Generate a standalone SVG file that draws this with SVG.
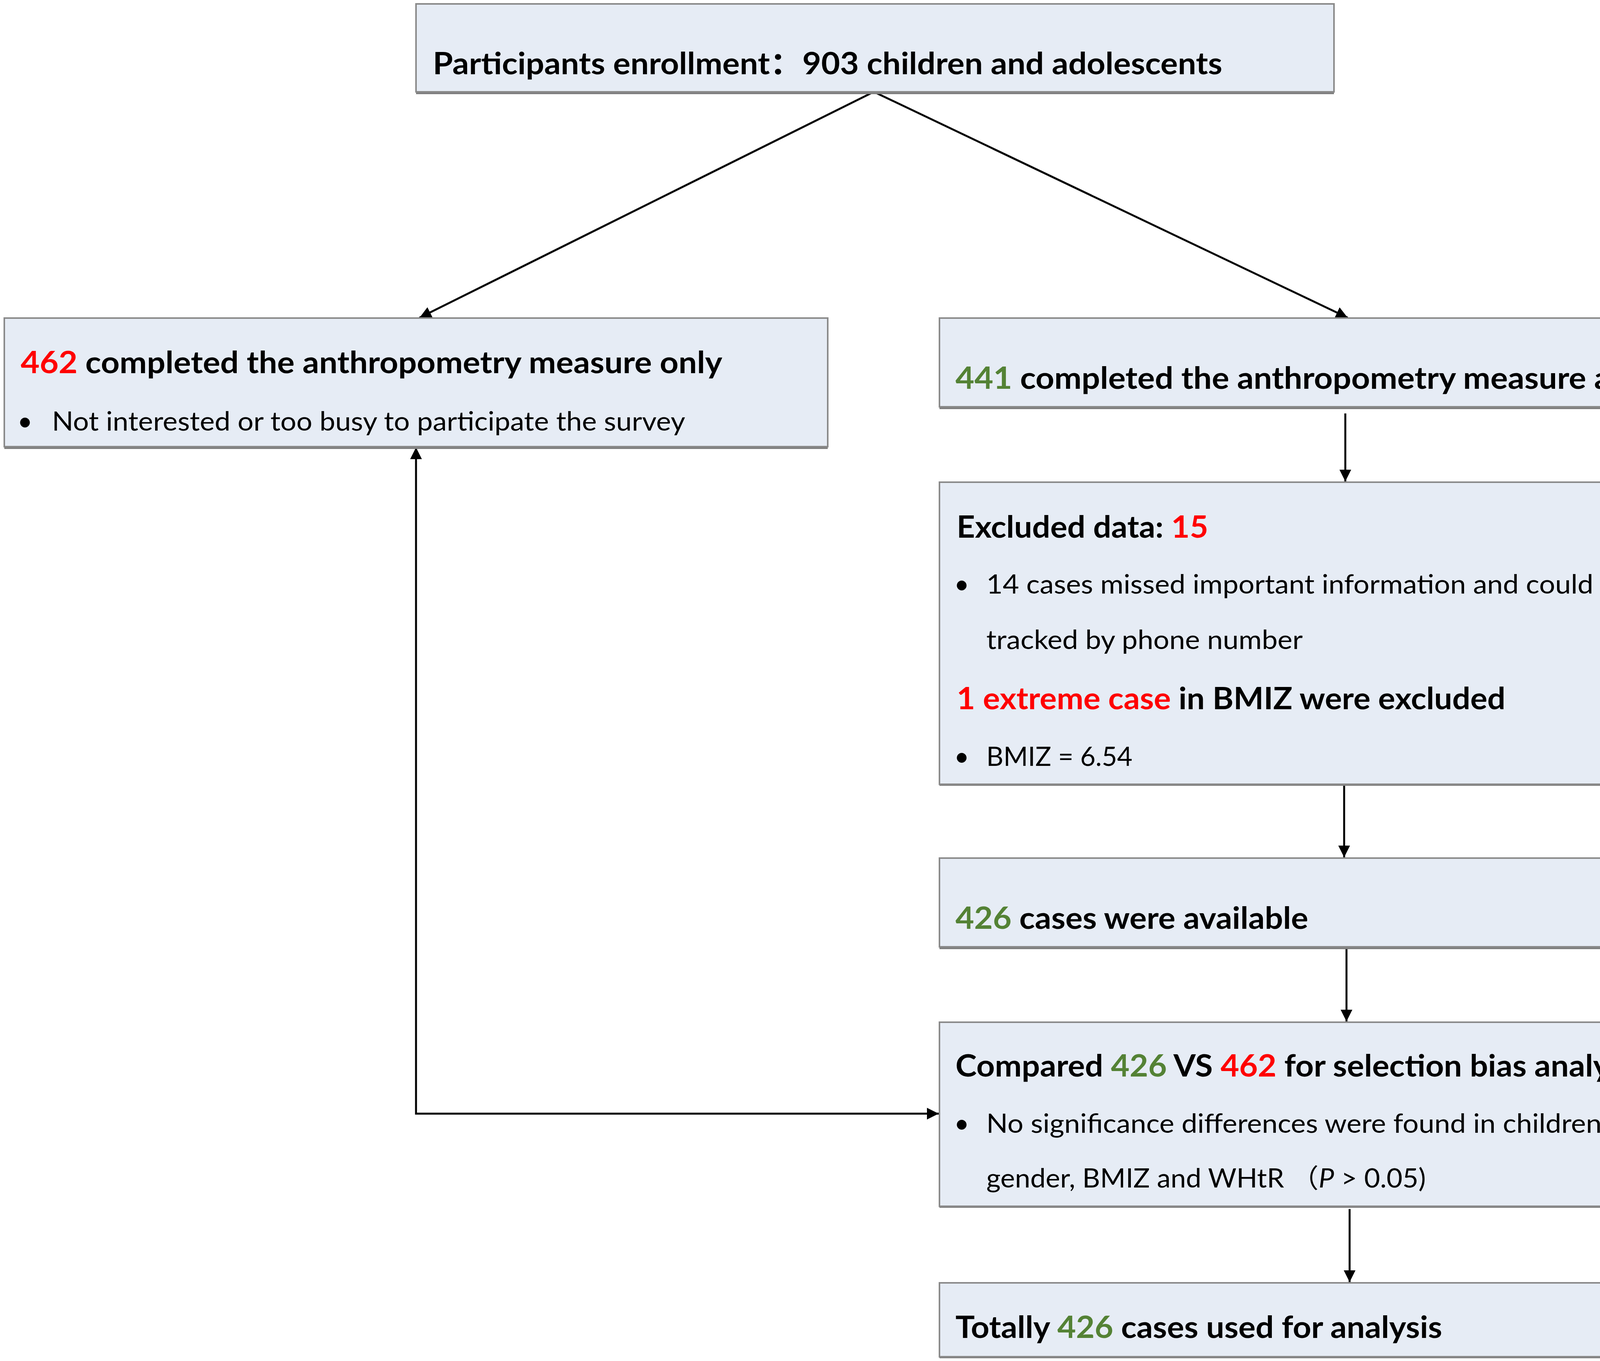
<svg xmlns="http://www.w3.org/2000/svg" width="4550" height="3483" viewBox="0 0 4550 3483">
<style>
.box{fill:#E6ECF5;stroke:#8A8A8A;stroke-width:4}
.shadow{fill:#7F7F7F}
.b{font-family:Lato,"Open Sans","Noto Sans CJK SC",sans-serif;font-weight:700;font-size:78px;fill:#000}
.r{font-family:Lato,"Open Sans","Noto Sans CJK SC",sans-serif;font-weight:400;font-size:67px;fill:#000}
.red{fill:#FF0000}
.grn{fill:#548235}
.con{fill:none;stroke:#000;stroke-width:5}
</style>
<defs>
<marker id="ah" viewBox="0 0 10 10" refX="10" refY="5" markerWidth="34" markerHeight="30" markerUnits="userSpaceOnUse" orient="auto-start-reverse">
<path d="M0,0 L10,5 L0,10 z" fill="#000"/>
</marker>
</defs>
<rect width="4550" height="3483" fill="#FFFFFF"/>
<g id="connectors">
<line class="con" x1="2237" y1="235" x2="1074" y2="813" marker-end="url(#ah)"/>
<line class="con" x1="2237" y1="235" x2="3450" y2="813" marker-end="url(#ah)"/>
<line class="con" x1="3444" y1="1058" x2="3444" y2="1232" marker-end="url(#ah)"/>
<line class="con" x1="3441" y1="2008" x2="3441" y2="2194" marker-end="url(#ah)"/>
<line class="con" x1="3447" y1="2425" x2="3447" y2="2614" marker-end="url(#ah)"/>
<line class="con" x1="3455" y1="3094" x2="3455" y2="3281" marker-end="url(#ah)"/>
<path class="con" d="M1065,1145 L1065,2850 L2403,2850" marker-start="url(#ah)" marker-end="url(#ah)"/>
</g>
<g id="n-enroll">
<rect class="shadow" x="1065" y="16" width="2350" height="225"/>
<rect class="box" x="1065" y="10" width="2350" height="225"/>
<text class="b" x="1108" y="190" textLength="2021" lengthAdjust="spacingAndGlyphs">Participants enrollment：903 children and adolescents</text>
</g>
<g id="n-only">
<rect class="shadow" x="11" y="820" width="2108" height="329"/>
<rect class="box" x="11" y="814" width="2108" height="329"/>
<text class="b" x="53" y="955" textLength="1796" lengthAdjust="spacingAndGlyphs"><tspan class="red">462</tspan> completed the anthropometry measure only</text>
<text class="r" x="64" y="1102" text-anchor="middle">•</text>
<text class="r" x="133" y="1102" textLength="1621" lengthAdjust="spacingAndGlyphs">Not interested or too busy to participate the survey</text>
</g>
<g id="n-survey">
<rect class="shadow" x="2405" y="820" width="2131" height="227"/>
<rect class="box" x="2405" y="814" width="2131" height="227"/>
<text class="b" x="2446" y="995" textLength="2037" lengthAdjust="spacingAndGlyphs"><tspan class="grn">441</tspan> completed the anthropometry measure and survey</text>
</g>
<g id="n-excluded">
<rect class="shadow" x="2405" y="1238" width="2131" height="773"/>
<rect class="box" x="2405" y="1234" width="2131" height="773"/>
<text class="b" x="2449" y="1376" textLength="644" lengthAdjust="spacingAndGlyphs">Excluded data: <tspan class="red">15</tspan></text>
<text class="r" x="2462" y="1519" text-anchor="middle">•</text>
<text class="r" x="2525" y="1519" textLength="1776" lengthAdjust="spacingAndGlyphs">14 cases missed important information and could not be</text>
<text class="r" x="2525" y="1661" textLength="810" lengthAdjust="spacingAndGlyphs">tracked by phone number</text>
<text class="b" x="2449" y="1815" textLength="1405" lengthAdjust="spacingAndGlyphs"><tspan class="red">1 extreme case</tspan> in BMIZ were excluded</text>
<text class="r" x="2462" y="1960" text-anchor="middle">•</text>
<text class="r" x="2525" y="1960" textLength="374" lengthAdjust="spacingAndGlyphs">BMIZ = 6.54</text>
</g>
<g id="n-available">
<rect class="shadow" x="2405" y="2202" width="2131" height="227"/>
<rect class="box" x="2405" y="2196" width="2131" height="227"/>
<text class="b" x="2446" y="2377" textLength="903" lengthAdjust="spacingAndGlyphs"><tspan class="grn">426</tspan> cases were available</text>
</g>
<g id="n-compared">
<rect class="shadow" x="2405" y="2620" width="2131" height="471"/>
<rect class="box" x="2405" y="2616" width="2131" height="471"/>
<text class="b" x="2446" y="2755" textLength="1768" lengthAdjust="spacingAndGlyphs">Compared <tspan class="grn">426</tspan> VS <tspan class="red">462</tspan> for selection bias analysis</text>
<text class="r" x="2462" y="2899" text-anchor="middle">•</text>
<text class="r" x="2525" y="2899" textLength="1765" lengthAdjust="spacingAndGlyphs">No significance differences were found in children’s age,</text>
<text class="r" x="2525" y="3039" textLength="1125" lengthAdjust="spacingAndGlyphs">gender, BMIZ and WHtR （<tspan font-style="italic">P</tspan> &gt; 0.05)</text>
</g>
<g id="n-final">
<rect class="shadow" x="2405" y="3287" width="2131" height="189"/>
<rect class="box" x="2405" y="3283" width="2131" height="189"/>
<text class="b" x="2446" y="3424" textLength="1246" lengthAdjust="spacingAndGlyphs">Totally <tspan class="grn">426</tspan> cases used for analysis</text>
</g>
</svg>
